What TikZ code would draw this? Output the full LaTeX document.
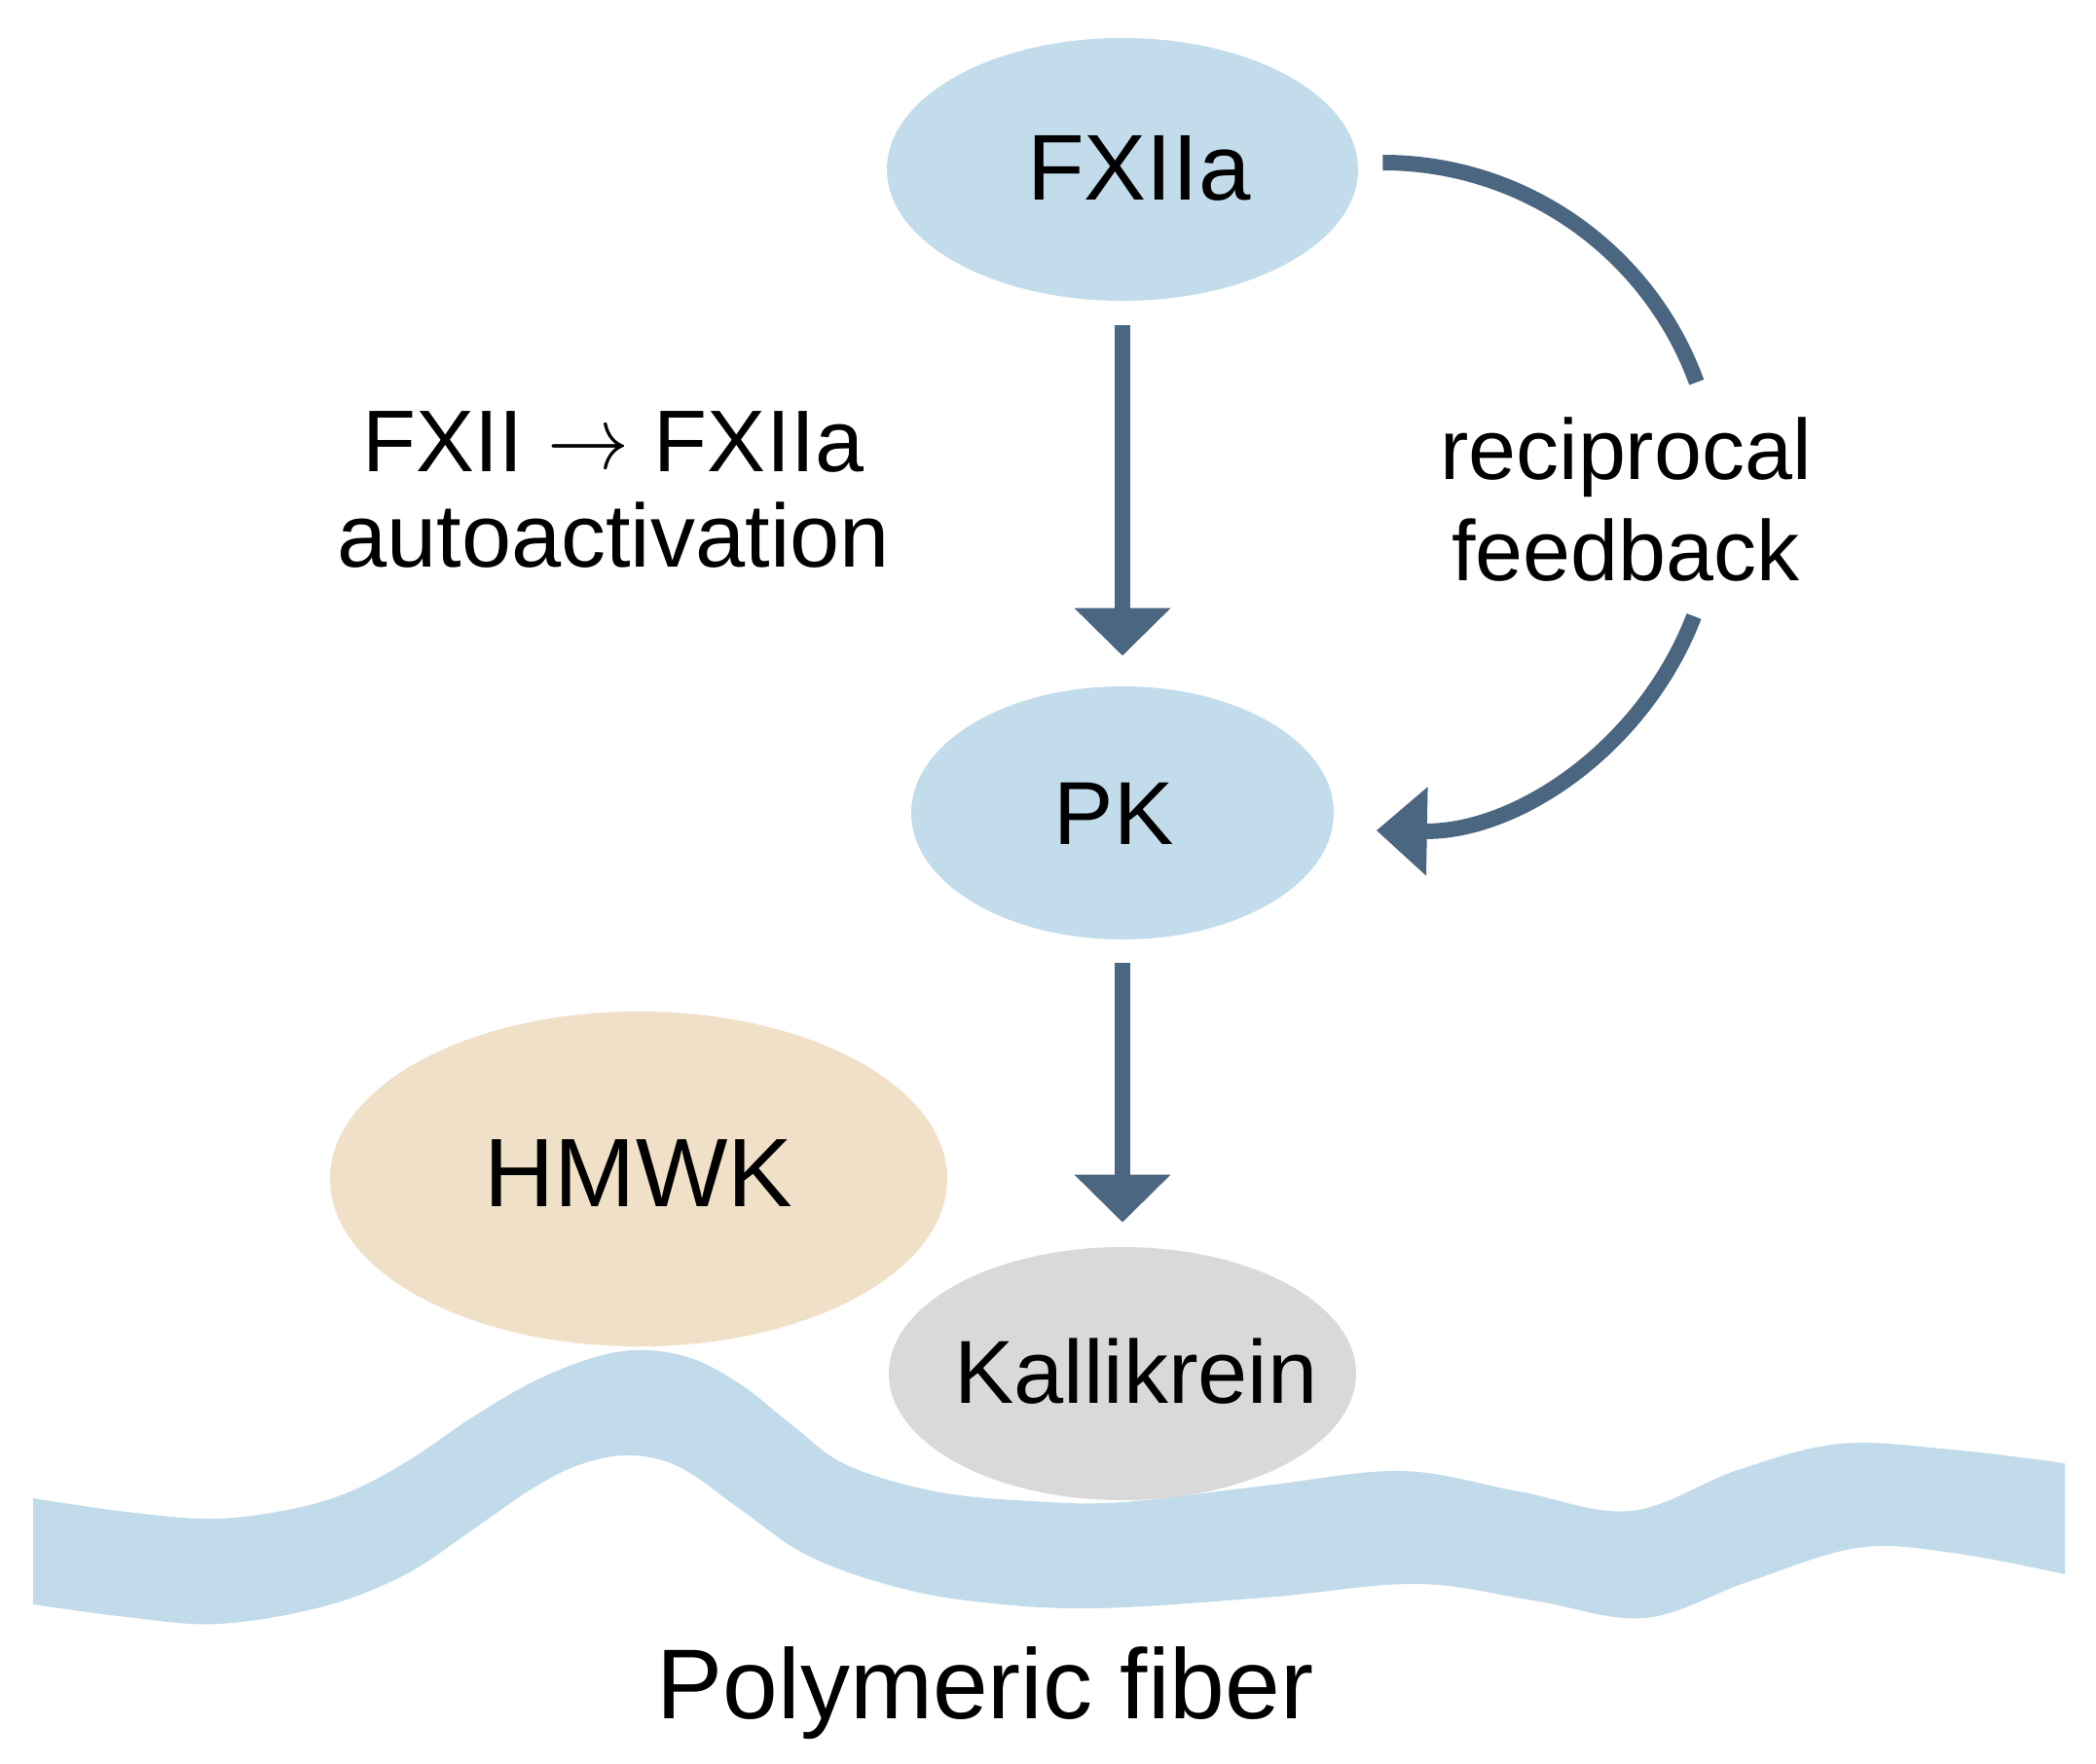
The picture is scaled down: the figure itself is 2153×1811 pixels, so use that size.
\documentclass[tikz,border=0pt]{standalone}
\usepackage{fontspec}
\setmainfont{Liberation Sans}
\usepackage{graphicx}
\usetikzlibrary{arrows.meta,shapes.geometric}
\definecolor{blobblue}{HTML}{C3DCEB}
\definecolor{fiberblue}{HTML}{C2DBEA}
\definecolor{hmwkcol}{HTML}{F0E0C7}
\definecolor{kalcol}{HTML}{D9D9D9}
\definecolor{arrowcol}{HTML}{4B6680}
\begin{document}
\begin{tikzpicture}[x=0.5pt,y=-0.5pt,
  blob/.style={ellipse, draw=none, inner sep=0pt},
  lbl/.style={inner sep=0pt, text=black},
  flow/.style={draw=arrowcol, line width=8pt, -{Triangle[width=48pt,length=24.5pt]}},
  fb/.style={draw=arrowcol, line width=8pt},
  fbtip/.style={-{Triangle[width=44pt,length=26pt]}}
]
\useasboundingbox[fill=white] (0,0) rectangle (2153,1811);

% polymeric fiber (band with explicit top and bottom edges)
\fill[fiberblue]
  plot[smooth, tension=0.6] coordinates {(34,1539) (130,1553) (220,1560) (300,1550) (360,1532) (420,1500) (485,1456) (550,1418) (615,1393) (665,1387) (715,1397) (765,1425) (815,1465) (870,1505) (961,1532) (1060,1542) (1153,1543) (1300,1526) (1440,1511) (1560,1532) (1675,1552) (1785,1510) (1890,1483) (2005,1489) (2121,1503)}
  -- plot[smooth, tension=0.6] coordinates {(2121,1617) (2005,1595) (1908,1590) (1795,1625) (1689,1662) (1575,1644) (1455,1627) (1300,1641) (1126,1652) (1010,1646) (920,1630) (830,1598) (760,1550) (700,1508) (650,1495) (600,1503) (550,1527) (483,1573) (417,1617) (333,1650) (225,1668) (130,1661) (34,1648)}
  -- cycle;

% ellipses
\node[blob, fill=blobblue, minimum width=242pt, minimum height=135pt] (fx) at (1153,174) {};
\node[lbl, font=\fontsize{48}{58}\selectfont] (fxt) at (1170,173) {FXIIa};

\node[blob, fill=blobblue, minimum width=217pt, minimum height=130pt] (pk) at (1153,835) {};
\node[lbl, font=\fontsize{46}{55}\selectfont] (pkt) at (1144,836) {PK};

\node[blob, fill=hmwkcol, minimum width=317pt, minimum height=172pt] (hm) at (656,1211) {};
\node[lbl, font=\fontsize{50}{60}\selectfont] (hmt) at (656,1205) {HMWK};

\node[blob, fill=kalcol, minimum width=240pt, minimum height=130pt] (ka) at (1153,1411) {};
\node[lbl, font=\fontsize{46}{55}\selectfont] (kat) at (1167,1409) {Kallikrein};

% straight arrows
\draw[flow, shorten <=12.5pt, shorten >=15.5pt] (fx.south) -- (pk.north);
\draw[flow, shorten <=12pt, shorten >=12.5pt] (pk.south) -- (ka.north);

% reciprocal feedback arcs
\coordinate (fbA) at ([shift={(25,-7)}]fx.east);
\coordinate (fbB) at (1740,633);
\draw[fb] (fbA) arc[start angle=90, end angle=20, radius=171.5pt];
\draw[fb, fbtip] (fbB) arc[start angle=-21, end angle=-91, radius=171.5pt];

% labels
\node[lbl, anchor=north, align=center, font=\fontsize{46}{49}\selectfont] (auto) at (630,422)
  {\fontsize{45}{49}\selectfont FXII {\fontsize{10}{12}\selectfont\raisebox{1.5pt}{\scalebox{4.2}[4.6]{$\rightarrow$}}} FXIIa\\autoactivation};
\node[lbl, anchor=north, align=center, font=\fontsize{44}{52}\selectfont] (recip) at (1670,428)
  {reciprocal\\feedback};
\node[lbl, anchor=base, font=\fontsize{51}{60}\selectfont] (poly) at (1012,1765) {Polymeric fiber};
\end{tikzpicture}
\end{document}
